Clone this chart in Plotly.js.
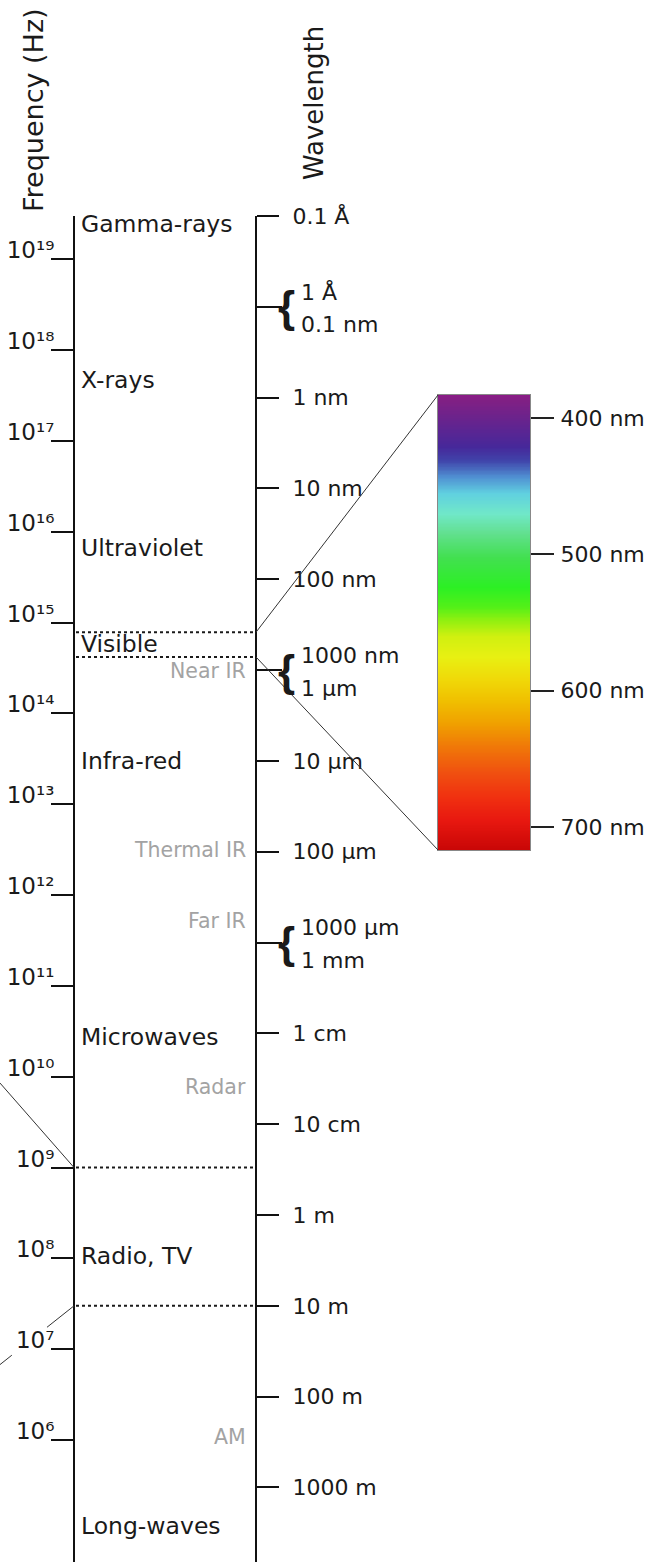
<!DOCTYPE html>
<html><head><meta charset="utf-8">
<script src="https://cdn.plot.ly/plotly-3.0.1.min.js"></script>
<style>html,body{margin:0;padding:0;background:#fff}#chart{width:660px;height:1562px}</style>
</head><body><div id="chart"></div>
<script>
// ---------- data ----------
const freqExponents = [19, 18, 17, 16, 15, 14, 13, 12, 11, 10, 9, 8, 7, 6];
const SUPER_DIGITS = ['⁰', '¹', '²', '³', '⁴', '⁵', '⁶', '⁷', '⁸', '⁹'];
const freqTickText = freqExponents.map(e => '10' + String(e).split('').map(d => SUPER_DIGITS[+d]).join(''));

const wavelengthMeters = [1e-11, 1e-9, 1e-8, 1e-7, 1e-5, 1e-4, 1e-2, 1e-1, 1, 10, 100, 1000];
const wavelengthLabels = ['0.1 Å', '1 nm', '10 nm', '100 nm', '10 μm', '100 μm', '1 cm', '10 cm', '1 m', '10 m', '100 m', '1000 m'];

const bracketMeters = [1e-10, 1e-6, 1e-3];
const bracketUpper = ['1 Å', '1000 nm', '1000 μm'];
const bracketLower = ['0.1 nm', '1 μm', '1 mm'];

const bandNames = ['Gamma-rays', 'X-rays', 'Ultraviolet', 'Visible', 'Infra-red', 'Microwaves', 'Radio, TV', 'Long-waves'];
const bandLabelLogF = [19.39, 17.67, 15.82, 14.76, 13.48, 10.44, 8.03, 5.05];

const subBandNames = ['Near IR', 'Thermal IR', 'Far IR', 'Radar', 'AM'];
const subBandLogF = [14.47, 12.50, 11.71, 9.89, 6.03];

const visibleRangeNm = [383, 717];
const bandBoundaryHz = [1e9, 2.998e7];       // microwave | radio, radio | long-wave
const calloutEndLogF = [9.93, 6.83];          // where the left call-out lines leave the picture

const spectrumTicksNm = [400, 500, 600, 700];
const spectrumTickText = ['400 nm', '500 nm', '600 nm', '700 nm'];
const spectrumNm = [383, 387, 421, 431, 443, 455, 470, 484, 502, 524, 538, 548, 560, 575, 592, 607, 624, 641, 660, 678, 695, 717];
const spectrumColors = ['#8a1c86', '#802084', '#46289a', '#4044aa', '#5090d2', '#60d0e0', '#70e8c8', '#62e090', '#42e050', '#2cf024', '#52f018', '#90f010', '#d0f010', '#e8f012', '#f0d808', '#f0c000', '#f0a000', '#f07808', '#f05010', '#f03010', '#e81810', '#c80606'];

// ---------- geometry ----------
const W = 660, H = 1562;
const C = 2.998e8, LOGC = Math.log10(C);
const topPx = 216, pxPerDecade = 90.82;
const yTop = LOGC + 11;                          // frequency of 0.1 Å at the top of the scales
const yBot = yTop - (H - topPx) / pxPerDecade;
const domTop = 1 - topPx / H;
const freqAxisX = 74, waveAxisX = 256;
const boxDomX = [438 / W, 530 / W];
const boxDomY = [1 - 850 / H, 1 - 395 / H];

const FONT = 'DejaVu Sans';
const INK = '#1a1a1a';
const GRAY = '#a3a3a3';

function logfToPaper(lf) { return (lf - yBot) / (yTop - yBot) * domTop; }
function nmToPaper(nm) {
  return boxDomY[0] + (nm - visibleRangeNm[1]) / (visibleRangeNm[0] - visibleRangeNm[1]) * (boxDomY[1] - boxDomY[0]);
}
function nmToLogf(nm) { return LOGC - Math.log10(nm * 1e-9); }

// ---------- traces ----------
const traces = [];

bandBoundaryHz.forEach(f => {
  const lf = Math.log10(f);
  traces.push({x: [freqAxisX + 2, waveAxisX], y: [lf, lf], xaxis: 'x', yaxis: 'y', mode: 'lines',
    line: {color: INK, width: 2, dash: 'dot'}, hoverinfo: 'skip', showlegend: false});
});
visibleRangeNm.forEach(nm => {
  const ll = Math.log10(nm * 1e-9);
  traces.push({x: [freqAxisX + 2, waveAxisX], y: [ll, ll], xaxis: 'x', yaxis: 'y2', mode: 'lines',
    line: {color: INK, width: 2, dash: 'dot'}, hoverinfo: 'skip', showlegend: false});
});
// invisible trace so the bracket-tick axis is drawn
traces.push({x: [waveAxisX, waveAxisX, waveAxisX], y: bracketMeters.map(m => Math.log10(m)), xaxis: 'x', yaxis: 'y4',
  mode: 'markers', marker: {opacity: 0}, hoverinfo: 'skip', showlegend: false});

const grid = [];
for (let v = visibleRangeNm[0]; v <= visibleRangeNm[1]; v += 1) grid.push(v);
const span = spectrumNm[spectrumNm.length - 1] - spectrumNm[0];
const colorscale = spectrumNm.map((nm, i) => [(nm - spectrumNm[0]) / span, spectrumColors[i]]);
traces.push({type: 'heatmap', x: [0], y: grid, z: grid.map(v => [v]), xaxis: 'x2', yaxis: 'y3',
  colorscale: colorscale, zmin: spectrumNm[0], zmax: spectrumNm[spectrumNm.length - 1],
  showscale: false, hoverinfo: 'skip', zsmooth: 'best'});

// ---------- shapes ----------
const shapes = [];
visibleRangeNm.forEach(nm => {
  shapes.push({type: 'line', xref: 'x', yref: 'paper', x0: waveAxisX, y0: logfToPaper(nmToLogf(nm)),
    x1: boxDomX[0] * W, y1: nmToPaper(nm), line: {color: '#333', width: 1}});
});
const calloutGaps = [[[0, 1]], [[0, 0.365], [0.84, 1]]];
bandBoundaryHz.forEach((f, i) => {
  const lf0 = Math.log10(f), lf1 = calloutEndLogF[i];
  calloutGaps[i].forEach(([t0, t1]) => {
    shapes.push({type: 'line', xref: 'x', yref: 'y',
      x0: freqAxisX * (1 - t0), y0: lf0 + (lf1 - lf0) * t0,
      x1: freqAxisX * (1 - t1), y1: lf0 + (lf1 - lf0) * t1,
      line: {color: '#333', width: 1}});
  });
});

// ---------- annotations ----------
const ann = [];
ann.push({text: 'Frequency (Hz)', xref: 'paper', yref: 'paper', x: 33 / W, y: 1 - 110 / H, textangle: -90,
  showarrow: false, xanchor: 'center', yanchor: 'middle', font: {family: FONT, size: 27, color: INK}});
ann.push({text: 'Wavelength', xref: 'paper', yref: 'paper', x: 314 / W, y: 1 - 103 / H, textangle: -90,
  showarrow: false, xanchor: 'center', yanchor: 'middle', font: {family: FONT, size: 26, color: INK}});

bandNames.forEach((n, i) => ann.push({text: n, xref: 'x', yref: 'y', x: 79, y: bandLabelLogF[i],
  xanchor: 'left', yanchor: 'middle', showarrow: false, font: {family: FONT, size: 23.5, color: INK}}));
subBandNames.forEach((n, i) => ann.push({text: n, xref: 'x', yref: 'y', x: 248, y: subBandLogF[i],
  xanchor: 'right', yanchor: 'middle', showarrow: false, font: {family: FONT, size: 20.5, color: GRAY}}));

bracketMeters.forEach((m, i) => {
  const ll = Math.log10(m);
  ann.push({text: '{', xref: 'x', yref: 'y2', x: 276, y: ll, xanchor: 'left', yanchor: 'middle',
    showarrow: false, font: {family: 'Liberation Sans', size: 44, color: INK, weight: 'bold'}});
  ann.push({text: bracketUpper[i], xref: 'x', yref: 'y2', x: 299, y: ll, xanchor: 'left', yanchor: 'middle',
    showarrow: false, yshift: 15, font: {family: FONT, size: 22, color: INK}});
  ann.push({text: bracketLower[i], xref: 'x', yref: 'y2', x: 299, y: ll, xanchor: 'left', yanchor: 'middle',
    showarrow: false, yshift: -18, font: {family: FONT, size: 22, color: INK}});
});

// ---------- layout ----------
const waveRange = [LOGC - yBot, LOGC - yTop];
const layout = {
  width: W, height: H, margin: {l: 0, r: 0, t: 0, b: 0},
  paper_bgcolor: '#fff', plot_bgcolor: 'rgba(0,0,0,0)',
  font: {family: FONT, color: INK},
  showlegend: false,
  xaxis: {range: [0, W], domain: [0, 1], visible: false, fixedrange: true},
  yaxis: {range: [yBot, yTop], domain: [0, domTop], anchor: 'free', position: freqAxisX / W, side: 'left',
    showline: true, linecolor: '#111', linewidth: 2, showgrid: false, zeroline: false,
    ticks: 'outside', ticklen: 22, tickwidth: 2, tickcolor: '#111',
    tickmode: 'array', tickvals: freqExponents, ticktext: freqTickText,
    ticklabelshift: -9, ticklabelstandoff: -8,
    tickfont: {family: FONT, size: 23, color: INK}, fixedrange: true},
  yaxis2: {range: waveRange, domain: [0, domTop], overlaying: 'y', anchor: 'free',
    position: waveAxisX / W, side: 'right',
    showline: true, linecolor: '#111', linewidth: 2, showgrid: false, zeroline: false,
    ticks: 'outside', ticklen: 22, tickwidth: 2, tickcolor: '#111',
    tickmode: 'array', tickvals: wavelengthMeters.map(m => Math.log10(m)), ticktext: wavelengthLabels,
    ticklabelstandoff: 9,
    tickfont: {family: FONT, size: 22, color: INK}, fixedrange: true},
  yaxis4: {range: waveRange, domain: [0, domTop], overlaying: 'y', anchor: 'free',
    position: waveAxisX / W, side: 'right',
    showline: false, showgrid: false, zeroline: false, showticklabels: false,
    ticks: 'outside', ticklen: 25, tickwidth: 2, tickcolor: '#111',
    tickmode: 'array', tickvals: bracketMeters.map(m => Math.log10(m)), fixedrange: true},
  xaxis2: {domain: boxDomX, range: [-0.5, 0.5], anchor: 'y3', showline: true, mirror: true,
    linecolor: '#888', linewidth: 1, showgrid: false, zeroline: false, showticklabels: false, ticks: '', fixedrange: true},
  yaxis3: {domain: boxDomY, range: [visibleRangeNm[1], visibleRangeNm[0]], anchor: 'x2', side: 'right',
    showline: true, mirror: true, linecolor: '#888', linewidth: 1, showgrid: false, zeroline: false,
    ticks: 'outside', ticklen: 23, tickwidth: 2, tickcolor: '#222',
    tickmode: 'array', tickvals: spectrumTicksNm, ticktext: spectrumTickText, ticklabelstandoff: 2,
    tickfont: {family: FONT, size: 22, color: INK}, fixedrange: true},
  shapes: shapes,
  annotations: ann
};

Plotly.newPlot('chart', traces, layout, {displayModeBar: false, staticPlot: true});
</script>
</body></html>
